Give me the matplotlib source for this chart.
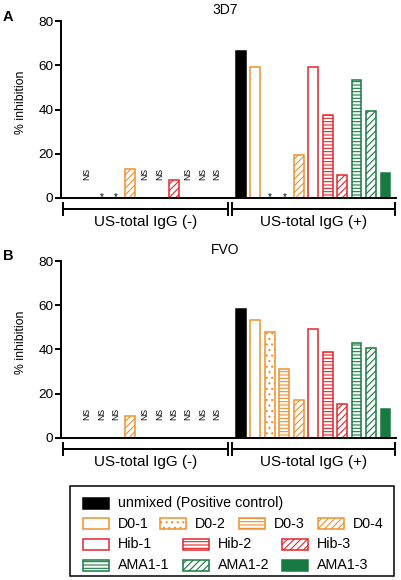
import matplotlib
matplotlib.use('Agg')
import matplotlib.pyplot as plt
from matplotlib.patches import Rectangle

plt.rcParams['font.family'] = ['Liberation Sans', 'DejaVu Sans']
plt.rcParams['hatch.linewidth'] = 0.8

# data
antigens = ['D0-1', 'D0-2', 'D0-3', 'D0-4', 'Hib-1', 'Hib-2', 'Hib-3',
            'AMA1-1', 'AMA1-2', 'AMA1-3']
control_label = 'unmixed (Positive control)'
group_labels = ['US-total IgG (-)', 'US-total IgG (+)']
panel_titles = ['3D7', 'FVO']
panel_letters = ['A', 'B']

# 3D7
a_neg = [0, 0, 0, 13, 0, 0, 8.2, 0, 0, 0]
a_neg_marks = ['NS', '*', '*', '', 'NS', 'NS', '', 'NS', 'NS', 'NS']
a_unmixed = 66.5
a_pos = [59.5, 0, 0, 19.3, 59.5, 37.3, 10.2, 53.3, 39.3, 11.2]
a_pos_marks = ['', '*', '*', '', '', '', '', '', '', '']

# FVO
b_neg = [0, 0, 0, 10, 0, 0, 0, 0, 0, 0]
b_neg_marks = ['NS', 'NS', 'NS', '', 'NS', 'NS', 'NS', 'NS', 'NS', 'NS']
b_unmixed = 58.3
b_pos = [53.2, 48, 31.2, 17, 49, 39, 15.2, 43, 40.4, 13]
b_pos_marks = [''] * 10

# styles
ORANGE = '#F0902E'
RED = '#E3262B'
GREEN = '#187A42'
styles = {
    control_label: dict(fc='black', ec='black', hatch=None),
    'D0-1': dict(fc='white', ec=ORANGE, hatch=None),
    'D0-2': dict(fc='white', ec=ORANGE, hatch='...'),
    'D0-3': dict(fc='white', ec=ORANGE, hatch='-----'),
    'D0-4': dict(fc='white', ec=ORANGE, hatch='/////'),
    'Hib-1': dict(fc='white', ec=RED, hatch=None),
    'Hib-2': dict(fc='white', ec=RED, hatch='-----'),
    'Hib-3': dict(fc='white', ec=RED, hatch='/////'),
    'AMA1-1': dict(fc='white', ec=GREEN, hatch='-----'),
    'AMA1-2': dict(fc='white', ec=GREEN, hatch='/////'),
    'AMA1-3': dict(fc=GREEN, ec=GREEN, hatch=None),
}

BAR_W = 0.68
EDGE_LW = 1.1
x_neg = list(range(10))
x_ctrl = 10.65
x_pos = [x_ctrl + 1 + i for i in range(10)]


def draw_bar(ax, x, h, name):
    st = styles[name]
    ax.bar(x, h, width=BAR_W, color=st['fc'], edgecolor=st['ec'],
           hatch=st['hatch'], linewidth=EDGE_LW, zorder=2)


def draw_mark(ax, x, m):
    if m == 'NS':
        ax.text(x, 10.7, 'NS', rotation=90, ha='center', va='center', fontsize=6.2)
    elif m == '*':
        ax.text(x, -0.9, '*', ha='center', va='baseline', fontsize=7)


def draw_panel(ax, neg, neg_marks, unmixed, pos, pos_marks, title):
    for x, h, name, m in zip(x_neg, neg, antigens, neg_marks):
        if h > 0:
            draw_bar(ax, x, h, name)
        draw_mark(ax, x, m)
    draw_bar(ax, x_ctrl, unmixed, control_label)
    for x, h, name, m in zip(x_pos, pos, antigens, pos_marks):
        if h > 0:
            draw_bar(ax, x, h, name)
        draw_mark(ax, x, m)

    ax.set_xlim(-1.8, 21.38)
    ax.set_ylim(0, 80)
    ax.set_yticks([0, 20, 40, 60, 80])
    ax.set_xticks([])
    for s in ['top', 'right']:
        ax.spines[s].set_visible(False)
    for s in ['left', 'bottom']:
        ax.spines[s].set_linewidth(1.4)
    ax.tick_params(axis='y', length=4, width=1.4, pad=1.5, labelsize=9.7)
    ax.set_ylabel('% inhibition', fontsize=8.8)
    ax.yaxis.set_label_coords(-0.10, 0.54)
    ax.set_title(title, fontsize=10, pad=5, x=0.49)

    # group brackets under the axis
    tr = ax.get_xaxis_transform()
    yb, th = -0.066, 0.034
    spans = [(-1.66, 9.76), (10.04, 21.3)]
    for (x0, x1), lab in zip(spans, group_labels):
        ax.plot([x0, x1], [yb, yb], color='black', lw=1.4, transform=tr, clip_on=False)
        for xe in (x0, x1):
            ax.plot([xe, xe], [yb - th, yb + th], color='black', lw=1.4,
                    transform=tr, clip_on=False)
        ax.text((x0 + x1) / 2, -0.14, lab, transform=tr, ha='center', va='center',
                fontsize=11)


fig = plt.figure(figsize=(4.01, 5.80), dpi=100)
axA = fig.add_axes([61 / 401, 1 - 197.7 / 580, 335 / 401, 176.4 / 580])
axB = fig.add_axes([61 / 401, 1 - 437.7 / 580, 335 / 401, 176.7 / 580])

draw_panel(axA, a_neg, a_neg_marks, a_unmixed, a_pos, a_pos_marks, panel_titles[0])
draw_panel(axB, b_neg, b_neg_marks, b_unmixed, b_pos, b_pos_marks, panel_titles[1])

fig.text(3 / 401, 1 - 17 / 580, panel_letters[0], fontsize=10.5, weight='bold', va='center')
fig.text(3 / 401, 1 - 256.5 / 580, panel_letters[1], fontsize=10.5, weight='bold', va='center')

# legend drawn in pixel coordinates
lg = fig.add_axes([0, 0, 1, 1], zorder=5)
lg.set_xlim(0, 401)
lg.set_ylim(580, 0)
lg.axis('off')
lg.patch.set_alpha(0)

legend_rows = [[control_label], antigens[0:4], antigens[4:7], antigens[7:10]]
row_y = [503.3, 523.8, 544.5, 565.0]
col_x = [[83], [83, 160, 239, 318], [83, 183, 282], [83, 183, 282]]
HW, HH = 26, 11

lg.add_patch(Rectangle((70, 485.5), 324, 90.5, fill=False, ec='black', lw=1.1))
for names, y, xs in zip(legend_rows, row_y, col_x):
    for name, x in zip(names, xs):
        st = styles[name]
        lg.add_patch(Rectangle((x, y - HH / 2), HW, HH, fc=st['fc'], ec=st['ec'],
                               hatch=st['hatch'], lw=EDGE_LW))
        lg.text(x + 35, y, name, va='center', ha='left', fontsize=10.3)

fig.savefig('out.png', dpi=100)
